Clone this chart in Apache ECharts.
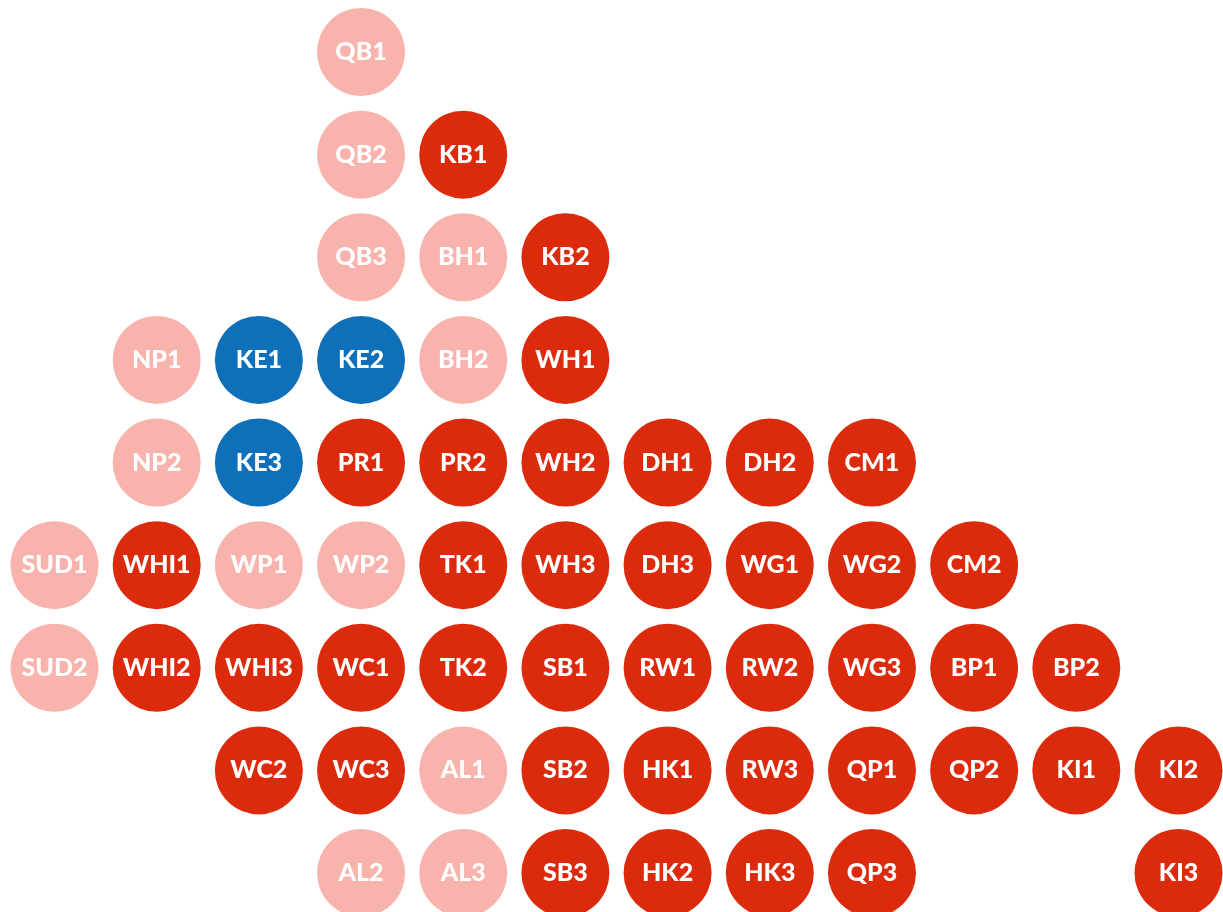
<!DOCTYPE html>
<html>
<head>
<meta charset="utf-8">
<style>
html,body{margin:0;padding:0;background:#fff;}
#chart{width:1223px;height:912px;}
</style>
<script src="https://cdn.jsdelivr.net/npm/echarts@6/dist/echarts.min.js"></script>
</head>
<body>
<div id="chart"></div>
<script>
// Cell labels, column index, row index, category
const labels = ['QB1','QB2','KB1','QB3','BH1','KB2','NP1','KE1','KE2','BH2','WH1',
  'NP2','KE3','PR1','PR2','WH2','DH1','DH2','CM1',
  'SUD1','WHI1','WP1','WP2','TK1','WH3','DH3','WG1','WG2','CM2',
  'SUD2','WHI2','WHI3','WC1','TK2','SB1','RW1','RW2','WG3','BP1','BP2',
  'WC2','WC3','AL1','SB2','HK1','RW3','QP1','QP2','KI1','KI2',
  'AL2','AL3','SB3','HK2','HK3','QP3','KI3'];
const cols = [3,3,4,3,4,5,1,2,3,4,5,
  1,2,3,4,5,6,7,8,
  0,1,2,3,4,5,6,7,8,9,
  0,1,2,3,4,5,6,7,8,9,10,
  2,3,4,5,6,7,8,9,10,11,
  3,4,5,6,7,8,11];
const rows = [0,1,1,2,2,2,3,3,3,3,3,
  4,4,4,4,4,4,4,4,
  5,5,5,5,5,5,5,5,5,5,
  6,6,6,6,6,6,6,6,6,6,6,
  7,7,7,7,7,7,7,7,7,7,
  8,8,8,8,8,8,8];
const groups = ['P','P','R','P','P','R','P','B','B','P','R',
  'P','B','R','R','R','R','R','R',
  'P','R','P','P','R','R','R','R','R','R',
  'P','R','R','R','R','R','R','R','R','R','R',
  'R','R','P','R','R','R','R','R','R','R',
  'P','P','R','R','R','R','R'];
const groupNames = ['P','R','B'];
const groupColors = {P:'#f8b3ac', R:'#dc2a0c', B:'#0f6fb9'};

const series = groupNames.map(g => ({
  type:'scatter',
  name:g,
  symbol:'circle',
  symbolSize:88,
  itemStyle:{color:groupColors[g], opacity:1},
  label:{show:true, position:'inside', formatter:p=>p.data[2],
    color:'#ffffff', fontFamily:'Lato', fontWeight:900, fontSize:25},
  emphasis:{disabled:true},
  data: labels.map((l,i)=>[cols[i], rows[i], l, groups[i]]).filter(d=>d[3]===g)
}));

const chart = echarts.init(document.getElementById('chart'));
chart.setOption({
  animation:false,
  backgroundColor:'#ffffff',
  grid:{left:0, top:0, right:0, bottom:0, outerBoundsMode:'none', containLabel:false},
  xAxis:{type:'value', min:-0.5334, max:11.4355, show:false},
  yAxis:{type:'value', min:-0.5067, max:8.38, inverse:true, show:false},
  series: series
});
</script>
</body>
</html>
